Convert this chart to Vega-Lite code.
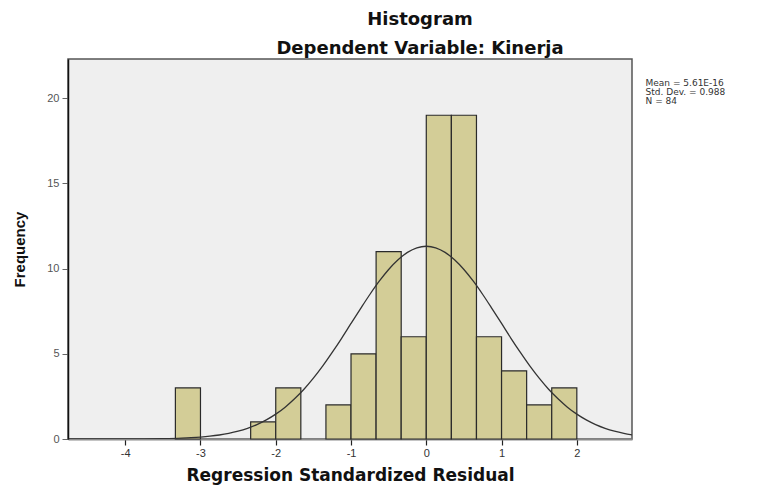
{
  "$schema": "https://vega.github.io/schema/vega-lite/v6.json",
  "width": 564,
  "height": 380,
  "autosize": "none",
  "padding": {"left": 68, "top": 59, "right": 125, "bottom": 47},
  "background": "white",
  "title": {
    "text": "Histogram",
    "subtitle": "Dependent Variable: Kinerja",
    "anchor": "middle",
    "dx": 70,
    "offset": 1,
    "font": "DejaVu Sans",
    "fontSize": 18,
    "fontWeight": "bold",
    "color": "#111",
    "subtitleFont": "DejaVu Sans",
    "subtitleFontSize": 18,
    "subtitleFontWeight": "bold",
    "subtitleColor": "#111",
    "subtitlePadding": 11
  },
  "datasets": {
    "bins": [
      {"start": -3.3333, "end": -3.0, "count": 3},
      {"start": -2.3333, "end": -2.0, "count": 1},
      {"start": -2.0, "end": -1.6667, "count": 3},
      {"start": -1.3333, "end": -1.0, "count": 2},
      {"start": -1.0, "end": -0.6667, "count": 5},
      {"start": -0.6667, "end": -0.3333, "count": 11},
      {"start": -0.3333, "end": 0.0, "count": 6},
      {"start": 0.0, "end": 0.3333, "count": 19},
      {"start": 0.3333, "end": 0.6667, "count": 19},
      {"start": 0.6667, "end": 1.0, "count": 6},
      {"start": 1.0, "end": 1.3333, "count": 4},
      {"start": 1.3333, "end": 1.6667, "count": 2},
      {"start": 1.6667, "end": 2.0, "count": 3}
    ],
    "curve": [
      {"x": -4.75, "y": 0.0001},
      {"x": -4.5, "y": 0.00035},
      {"x": -4.25, "y": 0.0011},
      {"x": -4.0, "y": 0.0031},
      {"x": -3.75, "y": 0.0084},
      {"x": -3.5, "y": 0.0213},
      {"x": -3.25, "y": 0.0506},
      {"x": -3.125, "y": 0.076},
      {"x": -3.0, "y": 0.1125},
      {"x": -2.875, "y": 0.164},
      {"x": -2.75, "y": 0.235},
      {"x": -2.625, "y": 0.332},
      {"x": -2.5, "y": 0.46},
      {"x": -2.375, "y": 0.629},
      {"x": -2.25, "y": 0.846},
      {"x": -2.125, "y": 1.12},
      {"x": -2.0, "y": 1.458},
      {"x": -1.875, "y": 1.87},
      {"x": -1.75, "y": 2.36},
      {"x": -1.625, "y": 2.92},
      {"x": -1.5, "y": 3.57},
      {"x": -1.375, "y": 4.29},
      {"x": -1.25, "y": 5.08},
      {"x": -1.125, "y": 5.91},
      {"x": -1.0, "y": 6.78},
      {"x": -0.875, "y": 7.64},
      {"x": -0.75, "y": 8.48},
      {"x": -0.625, "y": 9.26},
      {"x": -0.5, "y": 9.95},
      {"x": -0.375, "y": 10.52},
      {"x": -0.25, "y": 10.95},
      {"x": -0.125, "y": 11.22},
      {"x": 0.0, "y": 11.31},
      {"x": 0.125, "y": 11.22},
      {"x": 0.25, "y": 10.95},
      {"x": 0.375, "y": 10.52},
      {"x": 0.5, "y": 9.95},
      {"x": 0.625, "y": 9.26},
      {"x": 0.75, "y": 8.48},
      {"x": 0.875, "y": 7.64},
      {"x": 1.0, "y": 6.78},
      {"x": 1.125, "y": 5.91},
      {"x": 1.25, "y": 5.08},
      {"x": 1.375, "y": 4.29},
      {"x": 1.5, "y": 3.57},
      {"x": 1.625, "y": 2.92},
      {"x": 1.75, "y": 2.36},
      {"x": 1.875, "y": 1.87},
      {"x": 2.0, "y": 1.458},
      {"x": 2.125, "y": 1.12},
      {"x": 2.25, "y": 0.846},
      {"x": 2.375, "y": 0.629},
      {"x": 2.5, "y": 0.46},
      {"x": 2.625, "y": 0.332},
      {"x": 2.75, "y": 0.235}
    ],
    "stats": [
      {"text": "Mean = 5.61E-16|Std. Dev. = 0.988|N = 84"}
    ]
  },
  "config": {
    "view": {"fill": "#efefef", "stroke": "#555", "strokeWidth": 1.5},
    "axis": {"grid": false}
  },
  "layer": [
    {
      "data": {"name": "bins"},
      "mark": {"type": "bar", "fill": "#d3cd97", "stroke": "#2a2a2a", "strokeWidth": 1.2},
      "encoding": {
        "x": {
          "field": "start",
          "type": "quantitative",
          "scale": {"domain": [-4.76, 2.733], "nice": false, "zero": false},
          "axis": {
            "title": "Regression Standardized Residual",
            "values": [-4, -3, -2, -1, 0, 1, 2],
            "labelExpr": "'' + datum.value",
            "domainColor": "#8a8a8a",
            "domainWidth": 2,
            "tickColor": "#222",
            "tickSize": 6,
            "tickWidth": 1.2,
            "labelFont": "Liberation Sans",
            "labelFontSize": 11,
            "labelColor": "#333",
            "labelPadding": 2,
            "titleFont": "DejaVu Sans",
            "titleFontSize": 17,
            "titleFontWeight": "bold",
            "titleColor": "#111",
            "titlePadding": 9
          }
        },
        "x2": {"field": "end"},
        "y": {
          "field": "count",
          "type": "quantitative",
          "scale": {"domain": [0, 22.3], "nice": false},
          "axis": {
            "title": "Frequency",
            "values": [0, 5, 10, 15, 20],
            "domainColor": "#111",
            "domainWidth": 1.5,
            "tickColor": "#666",
            "tickSize": 6,
            "labelFont": "Liberation Sans",
            "labelFontSize": 11,
            "labelColor": "#555",
            "labelPadding": 3,
            "titleFont": "Liberation Sans",
            "titleFontSize": 15,
            "titleFontWeight": "bold",
            "titleColor": "#111",
            "titlePadding": 19
          }
        },
        "y2": {"datum": 0}
      }
    },
    {
      "data": {"name": "curve"},
      "mark": {"type": "line", "interpolate": "monotone", "color": "#333", "strokeWidth": 1.3, "clip": true},
      "encoding": {
        "x": {"field": "x", "type": "quantitative"},
        "y": {"field": "y", "type": "quantitative"}
      }
    },
    {
      "data": {"name": "stats"},
      "mark": {
        "type": "text",
        "lineBreak": "|",
        "lineHeight": 9,
        "align": "left",
        "baseline": "top",
        "font": "DejaVu Sans",
        "fontSize": 9,
        "color": "#333"
      },
      "encoding": {
        "x": {"datum": 2.913},
        "y": {"datum": 21.15},
        "text": {"field": "text"}
      }
    }
  ]
}
